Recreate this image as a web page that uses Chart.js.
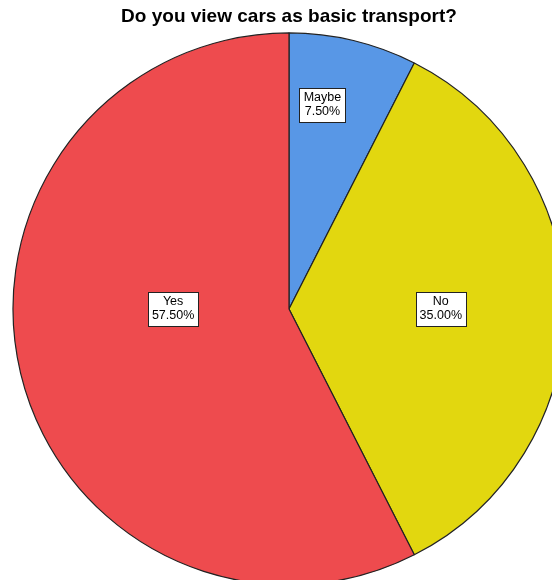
<!DOCTYPE html>
<html>
<head>
<meta charset="utf-8">
<script src="https://cdn.jsdelivr.net/npm/chart.js@4/dist/chart.umd.min.js"></script>
<style>
  html, body { margin: 0; padding: 0; background: #fff; overflow: hidden; }
  #wrap { width: 552px; height: 580px; }
</style>
</head>
<body>
<div id="wrap"><canvas id="pie"></canvas></div>
<script>
const categories = ["Maybe", "No", "Yes"];
const percents = [7.5, 35.0, 57.5];
const colors = ["#5897e6", "#e2d70f", "#ee4b4e"];
// where each label box sits: angle (deg clockwise from top), fraction of radius
const labelAngle = [9.3, 90, 270];
const labelDist = [0.75, 0.55, 0.42];

const boxLabels = {
  id: "boxLabels",
  afterDatasetsDraw(chart) {
    const ctx = chart.ctx;
    const meta = chart.getDatasetMeta(0);
    ctx.save();
    ctx.font = "12.5px 'Liberation Sans', Arial, sans-serif";
    ctx.textAlign = "center";
    ctx.textBaseline = "middle";
    meta.data.forEach((arc, i) => {
      const a = labelAngle[i] * Math.PI / 180;
      const d = arc.outerRadius * labelDist[i];
      const cx = arc.x + d * Math.sin(a);
      const cy = arc.y - d * Math.cos(a);
      const lines = [categories[i], percents[i].toFixed(2) + "%"];
      const w = Math.round(Math.max(...lines.map((l) => ctx.measureText(l).width)) + 8);
      const h = 34;
      const x0 = Math.round(cx - w / 2) + 0.5;
      const y0 = Math.round(cy - h / 2) + 0.5;
      ctx.fillStyle = "#fff";
      ctx.fillRect(x0, y0, w, h);
      ctx.strokeStyle = "#222";
      ctx.lineWidth = 1;
      ctx.strokeRect(x0, y0, w, h);
      ctx.fillStyle = "#000";
      ctx.fillText(lines[0], cx, cy - 7);
      ctx.fillText(lines[1], cx, cy + 7);
    });
    ctx.restore();
  }
};

new Chart(document.getElementById("pie"), {
  type: "pie",
  data: {
    labels: categories,
    datasets: [{
      data: percents,
      backgroundColor: colors,
      borderColor: "#222",
      borderWidth: 1.2
    }]
  },
  options: {
    responsive: true,
    maintainAspectRatio: false,
    animation: false,
    radius: 276,
    layout: { padding: { left: 26, right: 0, top: 0, bottom: 0 } },
    plugins: {
      legend: { display: false },
      tooltip: { enabled: false },
      title: {
        display: true,
        text: "Do you view cars as basic transport?",
        color: "#000",
        font: { family: "'Liberation Sans', Arial, sans-serif", size: 19, weight: "bold" },
        padding: { top: 5, bottom: 10 }
      }
    }
  },
  plugins: [boxLabels]
});
</script>
</body>
</html>
